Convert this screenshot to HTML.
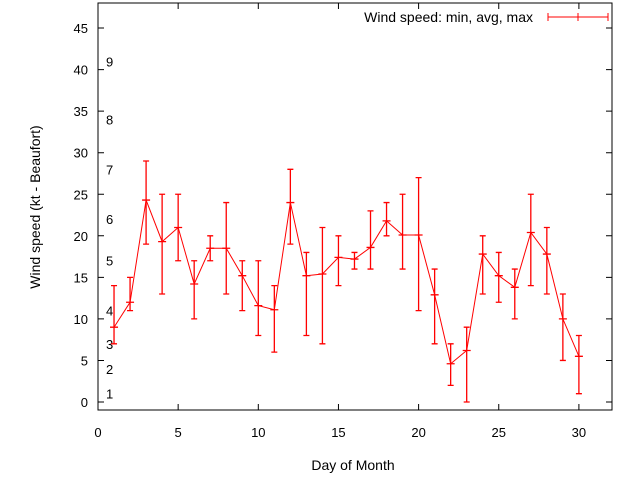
<!DOCTYPE html>
<html><head><meta charset="utf-8"><style>
body{margin:0;background:#fff}
svg{display:block;font-family:"Liberation Sans",sans-serif}
</style></head><body>
<svg id="chart" width="640" height="480" viewBox="0 0 640 480"></svg>
<script>
const days=[1,2,3,4,5,6,7,8,9,10,11,12,13,14,15,16,17,18,19,20,21,22,23,24,25,26,27,28,29,30];
const avgVals=[9,12,24.3,19.3,21,14.2,18.5,18.5,15.2,11.6,11.1,24,15.2,15.4,17.4,17.2,18.6,21.8,20.1,20.1,12.9,4.6,6.2,17.8,15.2,13.8,20.4,17.8,10,5.5];
const minVals=[7,11,19,13,17,10,17,13,11,8,6,19,8,7,14,16,16,20,16,11,7,2,0,13,12,10,14,13,5,1];
const maxVals=[14,15,29,25,25,17,20,24,17,17,14,28,18,21,20,18,23,24,25,27,16,7,9,20,18,16,25,21,13,8];
const yTicks=[0,5,10,15,20,25,30,35,40,45];
const xTicks=[0,5,10,15,20,25,30];
const beaufortLabels=["1","2","3","4","5","6","7","8","9"];
const beaufortKt=[1,4,7,11,17,22,28,34,41];
const NS="http://www.w3.org/2000/svg";
const svg=document.getElementById('chart');
const L=98,R=612,T=3,B=410;
const xs=v=>L+v*16.03;
const ys=v=>402-v*8.31;
function mk(tag,attrs,parent){const e=document.createElementNS(NS,tag);for(const k in attrs)e.setAttribute(k,attrs[k]);(parent||svg).appendChild(e);return e;}
const frame=mk('rect',{x:L,y:T,width:R-L,height:B-T,fill:'none',stroke:'#000','stroke-width':1});


yTicks.forEach(v=>{
  const t=mk('path',{d:`M${L} ${ys(v)}h6M${R} ${ys(v)}h-6`,stroke:'#000'});
  
  
  const tx=mk('text',{x:L-10,y:ys(v)+5,'text-anchor':'end','font-size':13});
  tx.textContent=v;
  
  
});
xTicks.forEach(v=>{
  const t=mk('path',{d:`M${xs(v)} ${B}v-6M${xs(v)} ${T}v6`,stroke:'#000'});
  
  
  const tx=mk('text',{x:xs(v),y:B+27,'text-anchor':'middle','font-size':13});
  tx.textContent=v;
  
  
});
beaufortLabels.forEach((s,i)=>{
  const tx=mk('text',{x:106,y:ys(beaufortKt[i])+5,'font-size':13});
  tx.textContent=s;
  
  
});
const line=mk('polyline',{points:days.map((d,i)=>xs(d)+','+ys(avgVals[i])).join(' '),fill:'none',stroke:'#f00','stroke-width':1});


days.forEach((d,i)=>{
  const x=xs(d);
  const e=mk('path',{d:`M${x} ${ys(minVals[i])}V${ys(maxVals[i])}M${x-3} ${ys(minVals[i])}h6M${x-3} ${ys(maxVals[i])}h6M${x-4} ${ys(avgVals[i])}h8`,stroke:'#f00','stroke-width':1.3,fill:'none'});
  
  
});
const lg=mk('text',{x:533,y:22,'text-anchor':'end','font-size':14});
lg.textContent='Wind speed: min, avg, max';


const ls=mk('path',{d:'M548 17h60M548 13v8M608 13v8M578 13v8',stroke:'#f00','stroke-width':1});


const xt=mk('text',{x:353,y:470,'text-anchor':'middle','font-size':14});
xt.textContent='Day of Month';


const yt=mk('text',{x:0,y:0,'text-anchor':'middle','font-size':14,transform:'translate(40 207) rotate(-90)'});
yt.textContent='Wind speed (kt - Beaufort)';


</script>
</body></html>
